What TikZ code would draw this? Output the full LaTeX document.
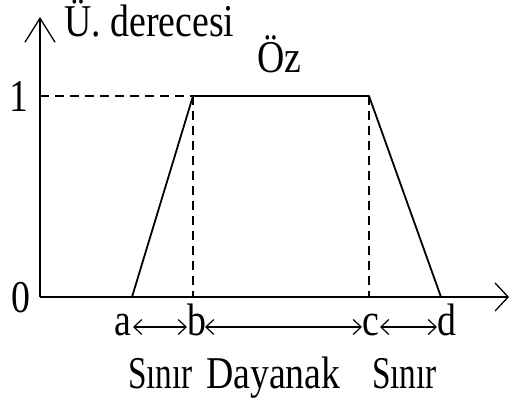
\documentclass[tikz,border=0pt]{standalone}
\usepackage{fontspec}
\setmainfont{Liberation Serif}
\usetikzlibrary{arrows.meta}
\newcommand{\tallt}[1]{\scalebox{1.08}[1.3]{#1}}
\newcommand{\talln}[1]{\scalebox{0.95}[1.3]{#1}}
\begin{document}
\begin{tikzpicture}[x=1pt,y=-1pt,
  lbl/.style={inner sep=0pt, anchor=base west, font=\fontsize{35}{40}\selectfont},
  axis/.style={line width=1.8pt},
  curve/.style={line width=1.8pt},
  guide/.style={line width=1.7pt, dash pattern=on 9pt off 6pt},
  span/.style={line width=1.2pt, {Straight Barb[length=8pt,width=15pt,line width=1.2pt]}-{Straight Barb[length=8pt,width=15pt,line width=1.2pt]}}]
\useasboundingbox (0,0) rectangle (510,398);
% coordinates
\coordinate (O) at (40,297);
\coordinate (ytop) at (40,17);
\coordinate (xend) at (509,297);
\coordinate (y1) at (40,96);
\coordinate (A) at (132,297);
\coordinate (B) at (193,96);
\coordinate (C) at (369,96);
\coordinate (D) at (441,297);
\coordinate (Bb) at (193,297);
\coordinate (Cb) at (369,297);
% axes
\draw[axis, -{Straight Barb[length=24pt,width=30pt,line width=1.3pt]}] (O) -- (ytop);
\draw[axis, -{Straight Barb[length=13pt,width=28pt,line width=1.3pt]}] (O) -- (xend);
% guides
\draw[guide] (y1) -- (B);
\draw[guide] (B) -- (Bb);
\draw[guide] (C) -- (Cb);
% trapezoid
\draw[curve, line join=round] (A) -- (B) -- (C) -- (D);
% labels
\node[lbl] (ylab) at (64,37) {\tallt{Ü. derecesi}};
\node[lbl] (core) at (257,73) {\tallt{Öz}};
\node[lbl] (one) at (9,112) {\tallt{1}};
\node[lbl] (zero) at (11,312) {\tallt{0}};
\node[lbl] (la) at (114,335) {\tallt{a}};
\node[lbl] (lb) at (187,335) {\tallt{b}};
\node[lbl] (lc) at (362,335) {\tallt{c}};
\node[lbl] (ld) at (437,335) {\tallt{d}};
\node[lbl] (s1) at (128,388) {\talln{Sınır}};
\node[lbl] (day) at (206,388) {\tallt{Dayanak}};
\node[lbl] (s2) at (372,388) {\talln{Sınır}};
% spans
\coordinate (pa) at (133,327);
\coordinate (pb1) at (187,327);
\coordinate (pb2) at (205,327);
\coordinate (pc1) at (362,327);
\coordinate (pc2) at (380,327);
\coordinate (pd) at (437,327);
\draw[span] (pa) -- (pb1);
\draw[span] (pb2) -- (pc1);
\draw[span] (pc2) -- (pd);
\end{tikzpicture}
\end{document}
